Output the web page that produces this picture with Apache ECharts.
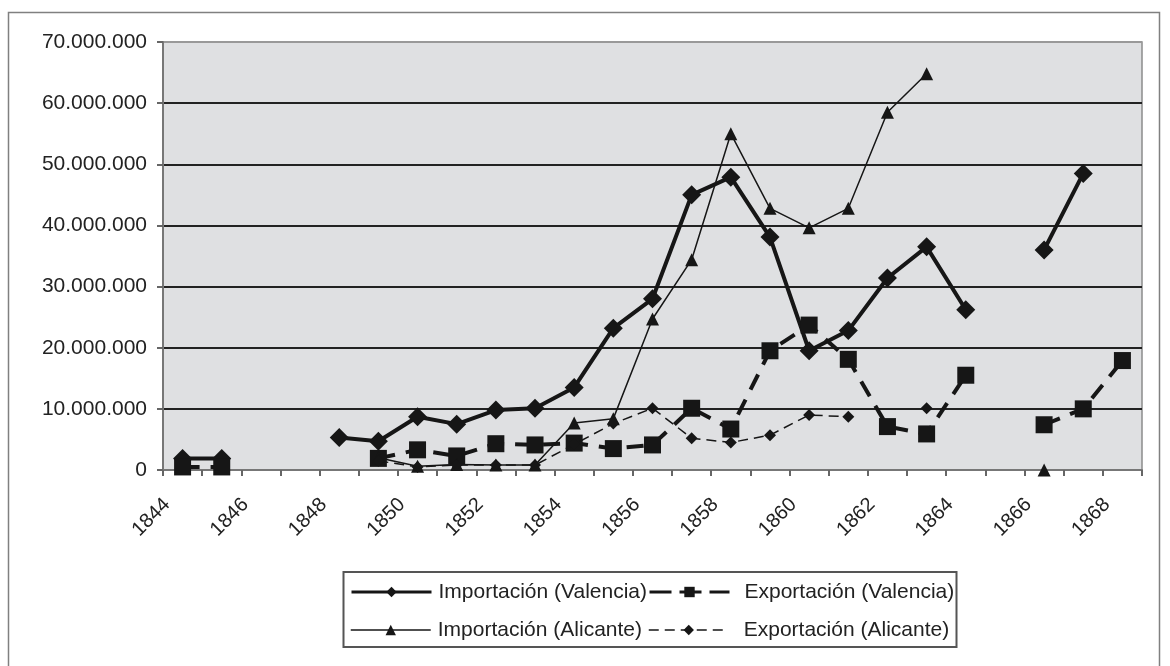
<!DOCTYPE html>
<html>
<head>
<meta charset="utf-8">
<script src="https://cdn.jsdelivr.net/npm/echarts@6/dist/echarts.min.js"></script>
<style>
html,body{margin:0;padding:0;background:#fff;}
#c{width:1170px;height:666px;}
</style>
</head>
<body>
<div id="c"></div>
<script>
const years = ['1844','1845','1846','1847','1848','1849','1850','1851','1852','1853','1854','1855','1856','1857','1858','1859','1860','1861','1862','1863','1864','1865','1866','1867','1868'];
const impValencia = [1900000,1900000,null,null,5300000,4700000,8700000,7500000,9800000,10100000,13500000,23200000,28000000,45000000,47900000,38100000,19500000,22800000,31400000,36500000,26200000,null,36000000,48500000,null];
const expValencia = [500000,500000,null,null,null,1900000,3300000,2300000,4300000,4100000,4400000,3500000,4100000,10100000,6700000,19500000,23700000,18100000,7100000,5900000,15500000,null,7400000,10000000,17900000];
const impAlicante = [null,null,null,null,null,2000000,600000,900000,800000,800000,7700000,8400000,24700000,34400000,55000000,42800000,39600000,42800000,58500000,64800000,null,null,0,null,null];
const expAlicante = [null,null,null,null,null,1500000,500000,800000,800000,800000,4200000,7600000,10100000,5200000,4500000,5700000,9000000,8700000,null,10100000,null,null,null,null,null];
const yTicks = [0,10000000,20000000,30000000,40000000,50000000,60000000,70000000];

const names = ['Importación (Valencia)','Exportación (Valencia)','Importación (Alicante)','Exportación (Alicante)'];
const ink = '#161616';
const fontFam = '"Liberation Sans", Arial, sans-serif';

function fmt(v){ return String(Math.round(v)).replace(/\B(?=(\d{3})+(?!\d))/g,'.'); }

const chart = echarts.init(document.getElementById('c'), null, {renderer:'canvas'});
function legendAt(name, left, top, padLeft, lw, ltype){
  return {
    data:[name], left:left, top:top, orient:'horizontal',
    itemWidth:80, itemHeight:13, itemGap:0, padding:0,
    selectedMode:false,
    lineStyle:{width:lw, type:ltype, color:ink},
    textStyle:{fontFamily:fontFam, fontSize:21, color:'#222', lineHeight:22, padding:[0,0,0,padLeft]},
  };
}
chart.setOption({
  animation:false,
  backgroundColor:'#fff',
  graphic:[
    {type:'rect', shape:{x:8.5,y:12.5,width:1151,height:700}, style:{fill:null, stroke:'#808080', lineWidth:1.5}, z:-10, silent:true},
    {type:'rect', shape:{x:343.5,y:572,width:613,height:75}, style:{fill:'#fff', stroke:'#555', lineWidth:2}, z:0, silent:true}
  ],
  grid:{left:163, top:42, right:28, bottom:196, show:true, backgroundColor:'#dfe0e2', borderColor:'#8c8c8c', borderWidth:1.5},
  legend:[
    legendAt(names[0], 350, 581, 2, 3, 'solid'),
    legendAt(names[1], 648, 581, 10, 3, [22,8]),
    legendAt(names[2], 350, 619, 2, 1.5, 'solid'),
    legendAt(names[3], 648, 619, 10, 1.5, [10,6])
  ],
  xAxis:{
    type:'category', data:years, boundaryGap:true,
    axisLine:{show:true, lineStyle:{color:'#777', width:2}},
    axisTick:{show:true, interval:0, length:6, lineStyle:{color:'#666', width:2}},
    axisLabel:{interval:1, rotate:45, fontFamily:fontFam, fontSize:20, color:'#222', margin:16, padding:[0,22,0,0]},
    splitLine:{show:false}
  },
  yAxis:{
    type:'value', min:0, max:70000000, interval:10000000,
    axisLine:{show:true, lineStyle:{color:'#777', width:2}},
    axisTick:{show:true, length:6, lineStyle:{color:'#666', width:2}},
    axisLabel:{fontFamily:fontFam, fontSize:21, color:'#222', margin:16, formatter:fmt},
    splitLine:{show:true, lineStyle:{color:['#777','#222','#222','#222','#222','#222','#222','#999'], width:2}}
  },
  series:[
    {name:names[0], type:'line', data:impValencia, symbol:'diamond', symbolSize:19, showAllSymbol:true,
     lineStyle:{color:ink, width:4}, itemStyle:{color:ink}, z:2},
    {name:names[1], type:'line', data:expValencia, symbol:'rect', symbolSize:17, showAllSymbol:true,
     lineStyle:{color:ink, width:4, type:[17,11]}, itemStyle:{color:ink}, z:3},
    {name:names[2], type:'line', data:impAlicante, symbol:'triangle', symbolSize:13, showAllSymbol:true,
     lineStyle:{color:ink, width:1.5}, itemStyle:{color:ink}, z:4},
    {name:names[3], type:'line', data:expAlicante, symbol:'diamond', symbolSize:12, showAllSymbol:true,
     lineStyle:{color:ink, width:1.5, type:[10,6]}, itemStyle:{color:ink}, z:5}
  ]
});
</script>
</body>
</html>
